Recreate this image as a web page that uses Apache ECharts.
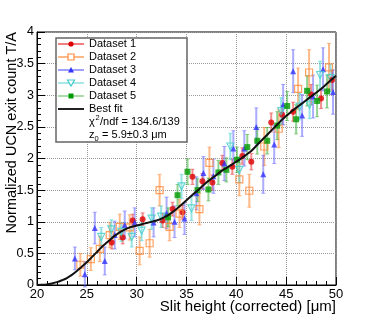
<!DOCTYPE html>
<html><head><meta charset="utf-8">
<script src="https://cdn.jsdelivr.net/npm/echarts@6/dist/echarts.min.js"></script>
<style>html,body{margin:0;padding:0;background:#fff}#c{width:374px;height:317px}</style>
</head><body><div id="c"></div>
<script>
// ---- data ----
const fitX = [20,20.5,21,21.5,22,22.5,23,23.5,24,24.5,25,25.5,26,26.5,27,27.5,28,28.5,29,29.5,30,30.5,31,31.5,32,32.5,33,33.5,34,34.5,35,35.5,36,36.5,37,37.5,38,38.5,39,39.5,40,40.5,41,41.5,42,42.5,43,43.5,44,44.5,45,45.5,46,46.5,47,47.5,48,48.5,49,49.5,50];
const fitY = [0,0.003,0.01,0.025,0.045,0.075,0.11,0.16,0.22,0.29,0.36,0.44,0.52,0.6,0.67,0.74,0.8,0.85,0.89,0.92,0.94,0.96,0.98,1.0,1.02,1.05,1.09,1.14,1.2,1.27,1.34,1.41,1.48,1.55,1.62,1.68,1.74,1.8,1.85,1.9,1.95,2.0,2.06,2.12,2.2,2.28,2.36,2.44,2.52,2.6,2.67,2.74,2.8,2.86,2.92,2.98,3.04,3.1,3.17,3.24,3.31];

const ds1X = [27.5,28.6,29.6,30.6,32.6,33.6,34.6,35.6,36.6,37.6,38.6,39.6,40.6,41.5,43.5,44.6,45.7,47.5,48.5,49.6];
const ds1Y = [0.67,0.75,1.02,1.04,1.02,1.20,1.15,1.71,1.64,1.62,1.93,1.87,2.04,1.95,2.57,2.69,2.74,3.01,2.95,3.24];
const ds1E = [0.10,0.10,0.10,0.10,0.11,0.11,0.11,0.12,0.12,0.12,0.12,0.12,0.13,0.13,0.15,0.15,0.15,0.16,0.16,0.16];

const ds2X = [24.35,25.4,26.3,27.3,28.3,29.3,30.3,31.3,32.3,33.3,34.3,36.3,37.3,40.3,41.3,42.8,44.25,46.2,47.3,49.3];
const ds2Y = [0.32,0.41,0.57,0.79,0.92,0.91,0.54,0.66,1.50,0.92,1.13,1.20,1.93,1.67,1.49,2.19,2.47,3.10,3.36,3.44];
const ds2E = [0.18,0.18,0.2,0.2,0.2,0.2,0.22,0.22,0.25,0.22,0.22,0.25,0.25,0.26,0.26,0.3,0.3,0.33,0.36,0.38];

const ds3X = [23.8,24.8,25.8,26.8,27.8,28.8,29.8,31.7,33.0,33.8,34.8,36.0,36.7,37.7,38.8,39.7,40.8,42.0,42.7,43.8,44.7,45.7,46.6,47.7,48.7,49.7];
const ds3Y = [0.42,0.17,0.90,0.38,0.79,0.95,0.99,0.99,1.14,1.00,1.05,1.45,1.77,1.72,1.92,2.16,2.16,2.50,1.75,2.22,2.85,3.38,2.68,2.98,3.41,3.05];
const ds3E = [0.18,0.2,0.25,0.22,0.22,0.22,0.23,0.23,0.25,0.25,0.25,0.26,0.26,0.27,0.27,0.28,0.28,0.3,0.3,0.3,0.32,0.34,0.33,0.34,0.34,0.35];

const ds4X = [26.45,27.46,28.46,29.5,30.5,31.5,32.45,34.5,35.5,39.4,40.3,44.5,46.35,47.35,48.4,49.45];
const ds4Y = [0.76,0.88,0.84,0.76,0.86,1.05,1.08,1.56,1.21,2.19,1.82,2.75,2.82,2.85,3.32,3.27];
const ds4E = [0.15,0.15,0.15,0.16,0.16,0.17,0.17,0.19,0.19,0.21,0.2,0.21,0.21,0.22,0.22,0.22];

const ds5X = [33.15,34.1,35.1,36.1,37.2,38.2,39.0,40.06,41.1,42.1,43.1,44.1,45.1,46.0,47.1,48.1,49.1];
const ds5Y = [1.07,1.42,1.79,1.50,1.51,1.78,1.82,1.98,2.18,2.28,2.28,2.52,2.83,2.62,3.07,2.91,3.06];
const ds5E = [0.15,0.17,0.2,0.18,0.18,0.19,0.19,0.2,0.2,0.21,0.21,0.22,0.23,0.23,0.24,0.25,0.26];

const legendNames = ['Dataset 1','Dataset 2','Dataset 3','Dataset 4','Dataset 5'];
const fitName = 'Best fit';
const chiText = '134.6/139';
const z0Text = '5.9\u00b10.3 \u03bcm';

// ---- styles ----
const FONT = '"Liberation Sans", Arial, Helvetica, sans-serif';
const styles = [
  {mark:'#dd0000', err:'rgba(235,50,50,0.55)', leg:'#ee5555', symbol:'circle', size:6, fill:true},
  {mark:'#ff8a3a', err:'rgba(255,140,60,0.6)', leg:'#ffa060', symbol:'rect', size:7, fill:false},
  {mark:'#3333ff', err:'rgba(90,90,255,0.5)', leg:'#8080ff', symbol:'triangle', size:6, fill:true},
  {mark:'#44cccc', err:'rgba(80,210,210,0.6)', leg:'#8ee0e0', symbol:'path://M0,0 L10,0 L5,9 Z', size:7, fill:false},
  {mark:'#009a00', err:'rgba(40,170,40,0.5)', leg:'#90d090', symbol:'rect', size:6, fill:true}
];
const sets = [[ds1X,ds1Y,ds1E],[ds2X,ds2Y,ds2E],[ds3X,ds3Y,ds3E],[ds4X,ds4Y,ds4E],[ds5X,ds5Y,ds5E]];

const series = [];
sets.forEach(function(s, k){
  const st = styles[k];
  const data = s[0].map(function(x,i){return [x, s[1][i], s[2][i]];});
  series.push({
    type:'custom', name: legendNames[k] + ' err', data: data, encode:{x:0, y:1}, silent:true, z:2,
    renderItem: function(params, api){
      const x = api.value(0), y = api.value(1), e = api.value(2);
      const p1 = api.coord([x, y - e]), p2 = api.coord([x, y + e]);
      return {type:'group', children:[
        {type:'line', shape:{x1:p1[0], y1:p1[1], x2:p2[0], y2:p2[1]}, style:{stroke:st.err, lineWidth:2}},
        {type:'line', shape:{x1:p1[0]-2, y1:p1[1], x2:p1[0]+2, y2:p1[1]}, style:{stroke:st.err, lineWidth:1}},
        {type:'line', shape:{x1:p2[0]-2, y1:p2[1], x2:p2[0]+2, y2:p2[1]}, style:{stroke:st.err, lineWidth:1}}
      ]};
    }
  });
  series.push({
    type:'scatter', name: legendNames[k], data: data.map(function(d){return [d[0], d[1]];}),
    symbol: st.symbol, symbolSize: st.size, z:3, silent:true,
    itemStyle: st.fill ? {color: st.mark} : {color:'rgba(0,0,0,0)', borderColor: st.mark, borderWidth:1.2}
  });
});
series.push({
  type:'line', name: fitName, data: fitX.map(function(x,i){return [x, fitY[i]];}),
  showSymbol:false, smooth:0.3, silent:true, z:5,
  lineStyle:{color:'#111', width:2}
});

// ---- legend graphics ----
const LX = 56, LY = 38, LW = 131, LH = 104;
const rowY = [44, 57, 70, 83, 96, 109];
const graphics = [
  {type:'rect', shape:{x:LX, y:LY, width:LW, height:LH}, style:{fill:'#fff', stroke:'#666', lineWidth:1.5}, z:10}
];
styles.forEach(function(st, k){
  const y = rowY[k];
  graphics.push({type:'line', shape:{x1:58, y1:y, x2:84, y2:y}, style:{stroke:st.leg, lineWidth:1.5}, z:11});
  graphics.push({type:'text', x:89, y:y, style:{text:legendNames[k], font:'11px ' + FONT, fill:'#000', verticalAlign:'middle'}, z:11});
});
graphics.push({type:'line', shape:{x1:58, y1:rowY[5], x2:84, y2:rowY[5]}, style:{stroke:'#222', lineWidth:2}, z:11});
graphics.push({type:'text', x:89, y:rowY[5], style:{text:fitName, font:'11px ' + FONT, fill:'#000', verticalAlign:'middle'}, z:11});
graphics.push({type:'text', x:89, y:122, style:{text:'\u03c7', font:'11px ' + FONT, fill:'#000', verticalAlign:'middle'}, z:11});
graphics.push({type:'text', x:95.5, y:118, style:{text:'2', font:'7.5px ' + FONT, fill:'#000', verticalAlign:'middle'}, z:11});
graphics.push({type:'text', x:100, y:122, style:{text:'/ndf = ' + chiText, font:'11px ' + FONT, fill:'#000', verticalAlign:'middle'}, z:11});
graphics.push({type:'text', x:89, y:135, style:{text:'z', font:'11px ' + FONT, fill:'#000', verticalAlign:'middle'}, z:11});
graphics.push({type:'text', x:94.5, y:139, style:{text:'0', font:'7.5px ' + FONT, fill:'#000', verticalAlign:'middle'}, z:11});
graphics.push({type:'text', x:99, y:135, style:{text:' = ' + z0Text, font:'11px ' + FONT, fill:'#000', verticalAlign:'middle'}, z:11});
// axis titles
graphics.push({type:'text', x:12, y:32, rotation:Math.PI/2, style:{text:'Normalized UCN exit count T/A', font:'14.5px ' + FONT, fill:'#000', align:'right', verticalAlign:'middle'}, z:11});
graphics.push({type:'text', x:336, y:307, style:{text:'Slit height (corrected) [\u03bcm]', font:'15px ' + FONT, fill:'#000', align:'right', verticalAlign:'middle'}, z:11});

// marker symbols in legend, drawn by a tiny scatter on a hidden pixel grid is avoided; use graphic shapes
styles.forEach(function(st, k){
  const y = rowY[k], cx = 71;
  let shape;
  if (k === 0) shape = {type:'circle', shape:{cx:cx, cy:y, r:2.6}, style:{fill:st.mark}};
  else if (k === 1) shape = {type:'rect', shape:{x:cx-3, y:y-3, width:6, height:6}, style:{fill:'#fff', stroke:st.mark, lineWidth:1.2}};
  else if (k === 2) shape = {type:'polygon', shape:{points:[[cx-3,y+2.5],[cx+3,y+2.5],[cx,y-3]]}, style:{fill:st.mark}};
  else if (k === 3) shape = {type:'polygon', shape:{points:[[cx-3.5,y-3],[cx+3.5,y-3],[cx,y+3]]}, style:{fill:'#fff', stroke:st.mark, lineWidth:1.2}};
  else shape = {type:'rect', shape:{x:cx-2.5, y:y-2.5, width:5, height:5}, style:{fill:st.mark}};
  shape.z = 12;
  graphics.push(shape);
});

const axisCommon = {
  axisLine:{show:true, onZero:false, lineStyle:{color:'#000', width:1}},
  axisTick:{show:true, inside:true, length:8, lineStyle:{color:'#000', width:1}},
  minorTick:{show:true, splitNumber:5, length:4, lineStyle:{color:'#000', width:1}},
  splitLine:{show:true, lineStyle:{color:'#999', type:'dotted', width:1}},
  minorSplitLine:{show:false}
};

const option = {
  animation:false,
  backgroundColor:'#fff',
  grid:{left:37, right:38, top:32, bottom:32, show:true, borderColor:'#000', borderWidth:1, backgroundColor:'transparent'},
  xAxis: Object.assign({type:'value', min:20, max:50, interval:5,
    axisLabel:{fontSize:13, color:'#000', margin:3, fontFamily:FONT}}, axisCommon),
  yAxis: Object.assign({type:'value', min:0, max:4, interval:0.5,
    axisLabel:{fontSize:12.5, color:'#000', margin:3, fontFamily:FONT}}, axisCommon),
  graphic: graphics,
  series: series
};
const chart = echarts.init(document.getElementById('c'));
chart.setOption(option);
</script>
</body></html>
